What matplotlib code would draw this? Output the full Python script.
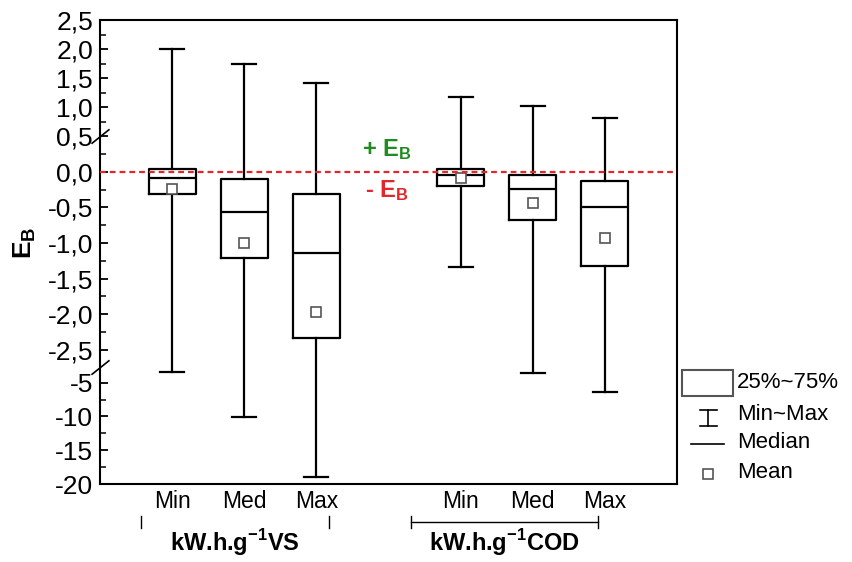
import numpy as np
import matplotlib
matplotlib.use("Agg")
import matplotlib.pyplot as plt
from matplotlib.lines import Line2D
from matplotlib.patches import Rectangle
from matplotlib.ticker import FixedLocator, FuncFormatter

plt.rcParams['font.family'] = ['Liberation Sans', 'DejaVu Sans']
plt.rcParams['mathtext.fontset'] = 'custom'
plt.rcParams['mathtext.rm'] = 'Liberation Sans'
plt.rcParams['mathtext.bf'] = 'Liberation Sans:bold'

# box statistics (E_B)
categories = ['Min', 'Med', 'Max', 'Min', 'Med', 'Max']
positions = [1, 2, 3, 5, 6, 7]
whislo = [-3.37, -10.1, -18.95, -1.34, -3.52, -6.44]
q1 = [-0.31, -1.21, -2.34, -0.20, -0.68, -1.33]
med = [-0.09, -0.57, -1.14, -0.04, -0.235, -0.49]
q3 = [0.04, -0.10, -0.31, 0.04, -0.05, -0.13]
whishi = [2.0, 1.75, 1.41, 1.17, 1.02, 0.82]
means = [-0.24, -1.0, -1.97, -0.08, -0.44, -0.93]

groups = [r'kW.h.g$^{\mathbf{-1}}$VS', r'kW.h.g$^{\mathbf{-1}}$COD']
group_x = [1.87, 5.61]
group_span = [(0.57, 3.17), (4.31, 6.91)]

major_ticks = [-20, -15, -10, -5, -2.5, -2, -1.5, -1, -0.5, 0, 0.5, 1, 1.5, 2, 2.5]
minor_ticks = [-17.5, -12.5, -7.5, -2.25, -1.75, -1.25, -0.75, -0.25,
               0.25, 0.75, 1.25, 1.75, 2.25]

# broken y axis: three linear pieces
B1, B2 = 0.5, -2.75
S_UP, S_MID, S_LOW = 58.0, 71.0, 6.74


def fwd(v):
    v = np.asarray(v, dtype=float)
    return np.where(v >= B1, S_MID * B1 + (v - B1) * S_UP,
                    np.where(v >= B2, S_MID * v, S_MID * B2 + (v - B2) * S_LOW))


def inv(y):
    y = np.asarray(y, dtype=float)
    y1, y2 = S_MID * B1, S_MID * B2
    return np.where(y >= y1, B1 + (y - y1) / S_UP,
                    np.where(y >= y2, y / S_MID, B2 + (y - y2) / S_LOW))


def fmt(v, pos):
    if abs(v) >= 5:
        return '%d' % v
    return ('%.1f' % v).replace('.', ',')


W, H = 852, 562
fig = plt.figure(figsize=(W / 100, H / 100), dpi=100)
ax = fig.add_axes([100 / W, 1 - 484 / H, 577 / W, 464 / H])
ax.set_yscale('function', functions=(fwd, inv))

stats = []
for i in range(len(categories)):
    stats.append(dict(whislo=whislo[i], q1=q1[i], med=med[i], q3=q3[i],
                      whishi=whishi[i], mean=means[i], fliers=[]))

lp = dict(color='black', linewidth=1.6)
ax.bxp(stats, positions=positions, widths=0.65, capwidths=0.33,
       showmeans=True, showfliers=False,
       boxprops=lp, whiskerprops=lp, capprops=lp, medianprops=lp,
       meanprops=dict(marker='s', markersize=6.5, markerfacecolor='white',
                      markeredgecolor='#555555', markeredgewidth=1.2))

ax.axhline(0, color='#e3262a', lw=1.6, dashes=(2.6, 1.8), zorder=5)

ax.set_xlim(0, 8)
ax.set_ylim(-20, 2.5)
ax.yaxis.set_major_locator(FixedLocator(major_ticks))
ax.yaxis.set_minor_locator(FixedLocator(minor_ticks))
ax.yaxis.set_major_formatter(FuncFormatter(fmt))
ax.tick_params(axis='y', which='major', direction='in', length=6, width=1.3,
               labelsize=19, pad=5)
ax.tick_params(axis='y', which='minor', direction='in', length=4, width=1.1)
ax.set_xticks(positions)
ax.set_xticklabels(categories)
ax.tick_params(axis='x', length=0, labelsize=16.5, pad=4)
for sp in ax.spines.values():
    sp.set_linewidth(1.5)

ax.set_ylabel(r'$\mathbf{E_B}$', fontsize=19)
ax.yaxis.set_label_coords(-0.108, 0.52)

# break marks on the y axis
for yb in (B1, B2):
    ax.plot([0], [yb], marker=[(-1, -0.8), (1, 0.8)], markersize=13,
            color='black', mew=1.2, transform=ax.get_yaxis_transform(),
            clip_on=False, zorder=6)

ax.text(3.98, 0.31, r'+ $\mathbf{E_B}$', color='#1e8c1e', fontsize=17,
        fontweight='bold', ha='center', va='center')
ax.text(3.98, -0.26, r'- $\mathbf{E_B}$', color='#e3262a', fontsize=17,
        fontweight='bold', ha='center', va='center')

# group labels with brackets
trans = ax.get_xaxis_transform()
for i, lab in enumerate(groups):
    x0, x1 = group_span[i]
    if i == 1:
        ax.plot([x0, x1], [-0.082, -0.082], color='black', lw=1.0,
                transform=trans, clip_on=False)
    for xe in (x0, x1):
        ax.plot([xe, xe], [-0.069, -0.095], color='black', lw=1.0,
                transform=trans, clip_on=False)
    ax.text(group_x[i], -0.127, lab, fontsize=17, fontweight='bold',
            ha='center', va='center', transform=trans)


# legend drawn by hand to the right of the axes
def fx(px):
    return px / W


def fy(py):
    return 1 - py / H


ft = fig.transFigure
fig.add_artist(Rectangle((fx(682), fy(396)), 51 / W, 26 / H, fill=False,
                         edgecolor='#555555', lw=1.5, transform=ft))
fig.add_artist(Line2D([fx(708), fx(708)], [fy(410), fy(426)], color='black',
                      lw=1.2, transform=ft))
for yc in (410, 426):
    fig.add_artist(Line2D([fx(700), fx(717)], [fy(yc), fy(yc)], color='black',
                          lw=1.2, transform=ft))
fig.add_artist(Line2D([fx(691), fx(724)], [fy(444), fy(444)], color='black',
                      lw=1.2, transform=ft))
fig.add_artist(Line2D([fx(708)], [fy(474)], marker='s', markersize=6.5,
                      markerfacecolor='white', markeredgecolor='#555555',
                      markeredgewidth=1.2, transform=ft))
leg_labels = ['25%~75%', 'Min~Max', 'Median', 'Mean']
leg_y = [383, 414, 443, 473]
for lab, yy in zip(leg_labels, leg_y):
    fig.text(fx(737), fy(yy), lab, fontsize=16, ha='left', va='center')

fig.savefig('out.png', dpi=100)
